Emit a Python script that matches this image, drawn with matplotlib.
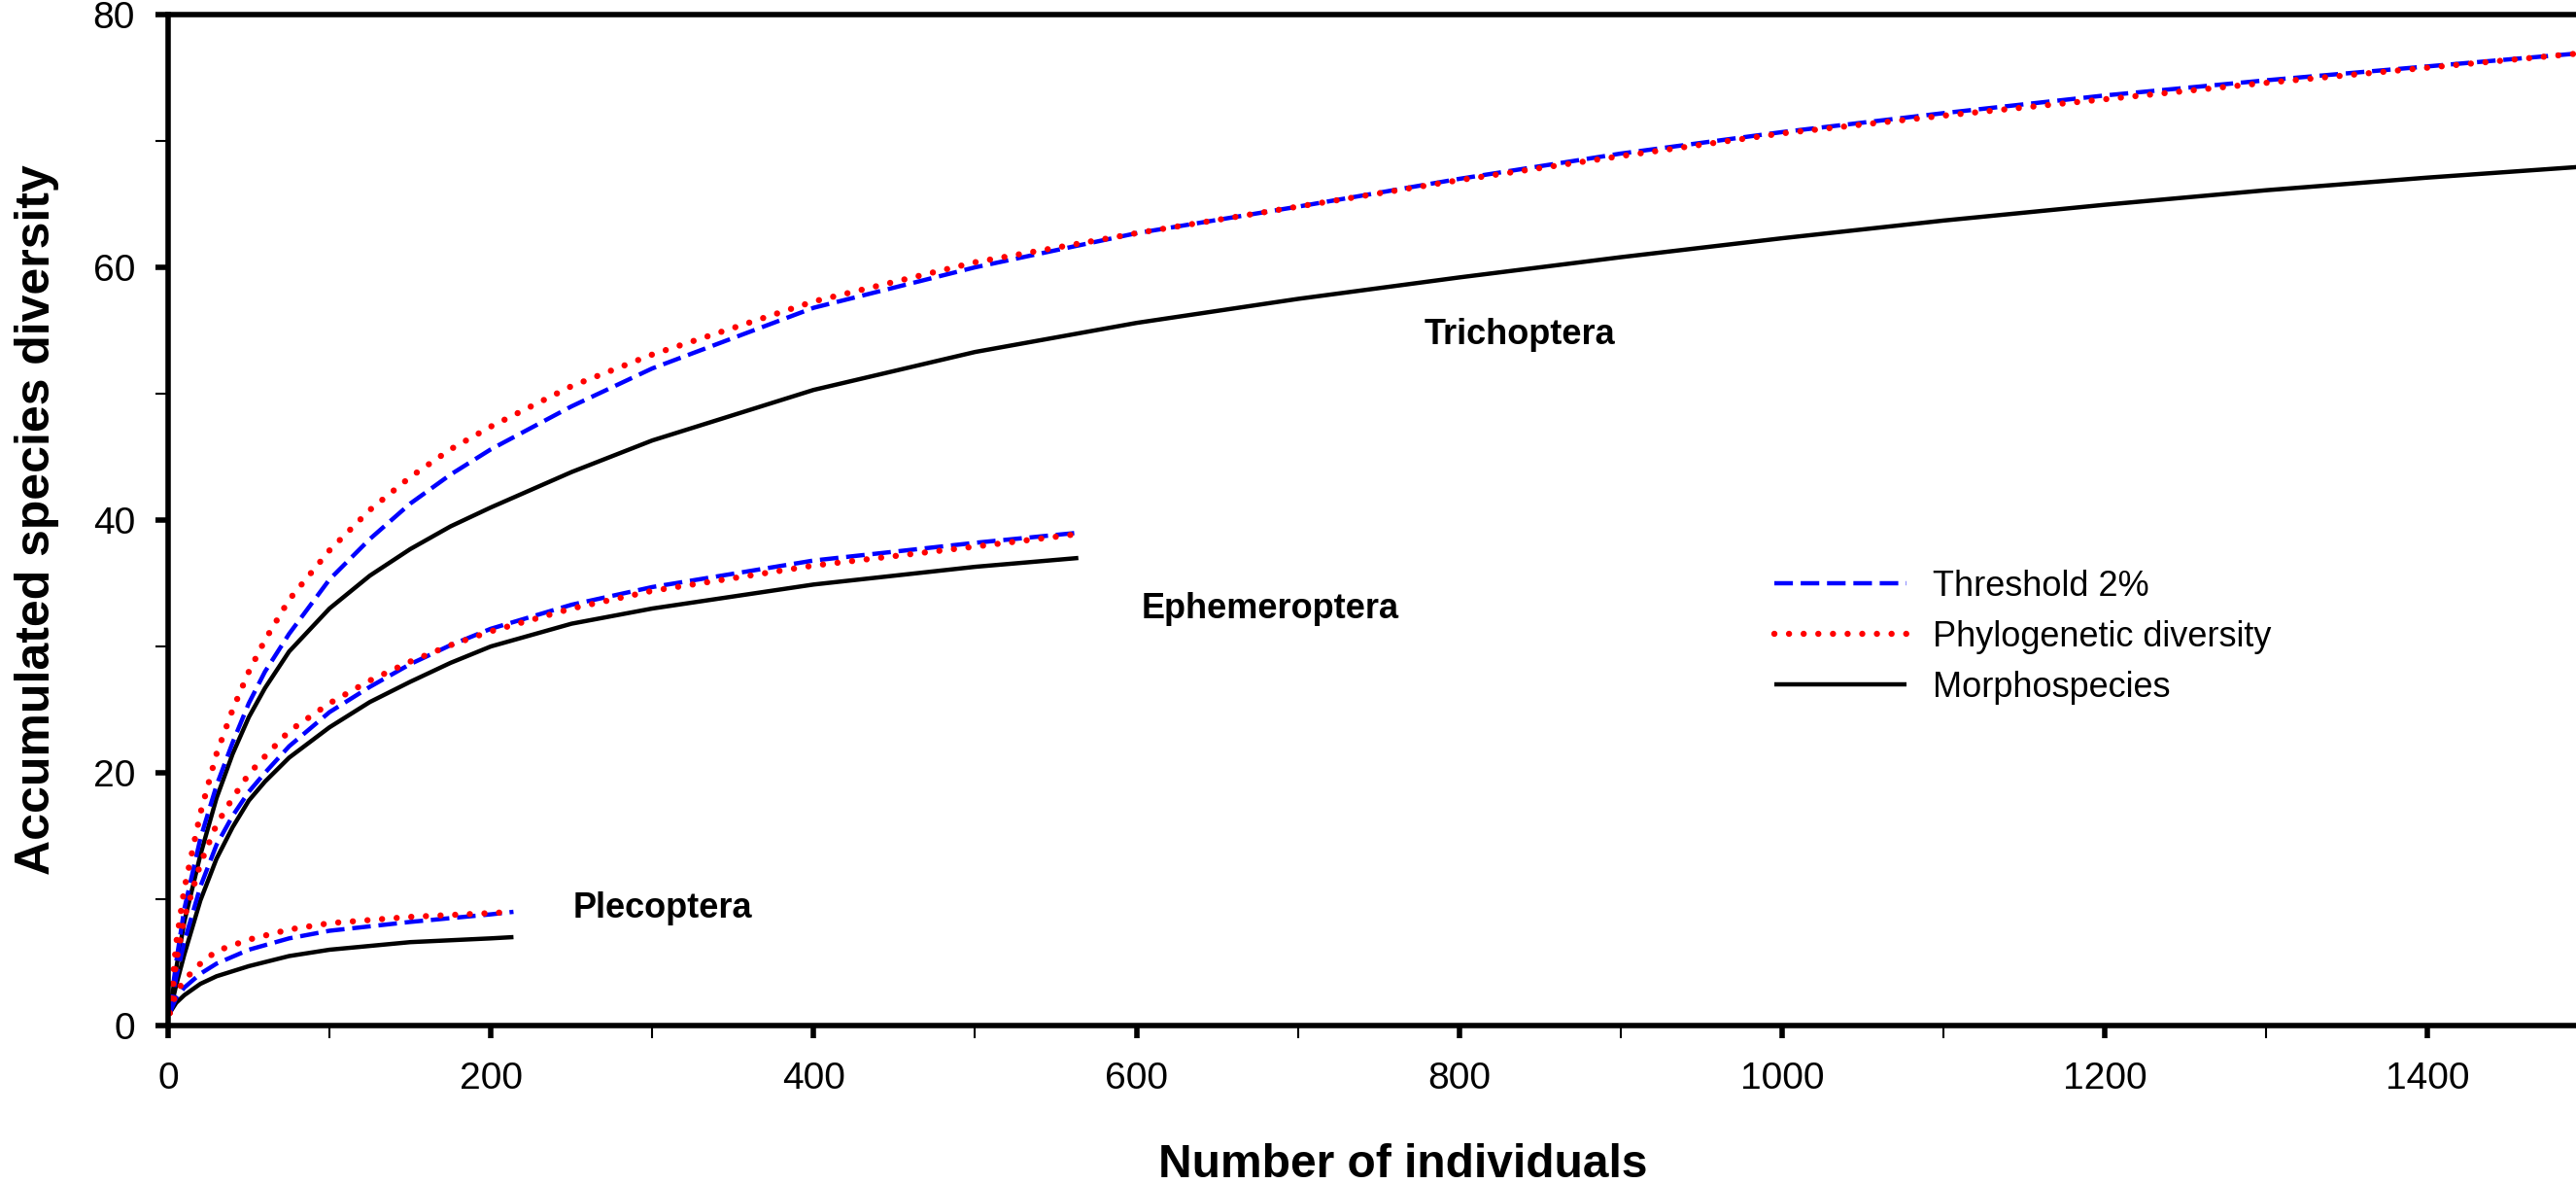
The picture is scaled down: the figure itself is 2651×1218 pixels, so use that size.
# **********************************************************************************************************************
# Imports
# **********************************************************************************************************************

import matplotlib
matplotlib.use("Agg")
import matplotlib.pyplot as plt
from matplotlib.ticker import MultipleLocator

plt.rcParams['font.family'] = ['Liberation Sans', 'DejaVu Sans']

# **********************************************************************************************************************
# Data
# **********************************************************************************************************************

tri_x = [1, 5, 10, 20, 30, 40, 50, 60, 75, 100, 125, 150, 175, 200, 250, 300, 400, 500, 600, 700, 800, 900, 1000,
         1100, 1200, 1300, 1400, 1500]
tri_morpho = [1, 4.5, 8.2, 13.5, 18.0, 21.5, 24.4, 26.7, 29.6, 33.0, 35.6, 37.7, 39.5, 41.0, 43.8, 46.3, 50.3, 53.3,
              55.6, 57.5, 59.2, 60.8, 62.3, 63.7, 64.95, 66.1, 67.1, 68.0]
tri_threshold = [1, 5.0, 9.2, 14.8, 19.0, 22.4, 25.5, 28.0, 31.0, 35.3, 38.5, 41.3, 43.6, 45.6, 49.0, 52.0, 56.8, 60.0,
                 62.7, 64.8, 67.0, 69.0, 70.7, 72.2, 73.6, 74.8, 75.9, 77.0]
tri_phylo = [1, 6.5, 10.8, 16.8, 21.5, 25.0, 28.0, 30.5, 33.7, 37.6, 40.8, 43.4, 45.6, 47.4, 50.6, 53.1, 57.3, 60.4,
             62.7, 64.8, 66.9, 68.8, 70.6, 72.0, 73.3, 74.6, 75.8, 77.0]

eph_x = [1, 5, 10, 20, 30, 40, 50, 60, 75, 100, 125, 150, 175, 200, 250, 300, 400, 500, 564]
eph_morpho = [1, 3.2, 5.6, 9.9, 13.2, 15.7, 17.8, 19.3, 21.2, 23.6, 25.6, 27.2, 28.7, 30.0, 31.8, 33.0, 34.9, 36.3,
              37.0]
eph_threshold = [1, 3.8, 6.6, 11.0, 14.3, 16.6, 18.5, 20.0, 22.1, 24.8, 26.8, 28.6, 30.1, 31.4, 33.3, 34.7, 36.8,
                 38.2, 39.0]
eph_phylo = [1, 5.0, 8.5, 12.8, 15.9, 18.0, 19.9, 21.3, 23.3, 25.5, 27.3, 28.8, 30.1, 31.2, 33.0, 34.4, 36.4, 37.9,
             38.9]

ple_x = [1, 5, 10, 20, 30, 50, 75, 100, 150, 200, 214]
ple_morpho = [1, 1.8, 2.4, 3.3, 3.9, 4.7, 5.5, 6.0, 6.6, 6.9, 7.0]
ple_threshold = [1, 2.2, 3.0, 4.1, 4.9, 6.0, 6.9, 7.5, 8.2, 8.8, 9.0]
ple_phylo = [1, 2.6, 3.6, 4.9, 5.9, 6.8, 7.6, 8.1, 8.6, 8.9, 9.0]

groups = [
    ("Trichoptera", tri_x, tri_morpho, tri_threshold, tri_phylo, (778, 53.9)),
    ("Ephemeroptera", eph_x, eph_morpho, eph_threshold, eph_phylo, (603, 32.2)),
    ("Plecoptera", ple_x, ple_morpho, ple_threshold, ple_phylo, (251, 8.55)),
]

# **********************************************************************************************************************
# Plot
# **********************************************************************************************************************

fig = plt.figure(figsize=(26.51, 12.18), dpi=100)
ax = fig.add_axes([173 / 2651, 1 - 1055 / 1218, 2478 / 2651, 1040 / 1218])

for i, (name, x, morpho, thresh, phylo, label_pos) in enumerate(groups):
    ax.plot(x, morpho, color='black', linewidth=3.2, solid_capstyle='butt',
            label='Morphospecies' if i == 0 else None)
    ax.plot(x, thresh, color='#0000ff', linewidth=3.2, linestyle=(0, (4.3, 1.8)),
            label='Threshold 2%' if i == 0 else None)
    ax.plot(x, phylo, color='#ff0000', linewidth=4.6, linestyle=(0, (0.01, 2.35)), dash_capstyle='round',
            label='Phylogenetic diversity' if i == 0 else None)
    ax.text(label_pos[0], label_pos[1], name, fontsize=26, fontweight='bold', va='baseline', ha='left')

ax.set_xlim(0, 1492)
ax.set_ylim(0, 80)

ax.xaxis.set_major_locator(MultipleLocator(200))
ax.xaxis.set_minor_locator(MultipleLocator(100))
ax.yaxis.set_major_locator(MultipleLocator(20))
ax.yaxis.set_minor_locator(MultipleLocator(10))

for side in ['left', 'bottom', 'top']:
    ax.spines[side].set_linewidth(4.0)
ax.spines['right'].set_visible(False)

ax.tick_params(which='major', direction='out', length=9.4, width=4.0, labelsize=28)
ax.tick_params(which='minor', direction='out', length=9.4, width=1.5)
ax.tick_params(axis='x', which='major', pad=17)
ax.tick_params(axis='y', which='major', pad=15)

ax.set_xlabel('Number of individuals', fontsize=34.5, fontweight='bold')
ax.set_ylabel('Accumulated species diversity', fontsize=36, fontweight='bold')
ax.xaxis.set_label_coords(0.513, -0.116)
ax.yaxis.set_label_coords(-0.045, 0.5)

handles, labels = ax.get_legend_handles_labels()
order = [labels.index('Threshold 2%'), labels.index('Phylogenetic diversity'), labels.index('Morphospecies')]
ax.legend([handles[k] for k in order], [labels[k] for k in order], loc='upper left',
          bbox_to_anchor=((1826 - 173) / 2478, (1055 - 586) / 1040), frameon=False, fontsize=26,
          handlelength=3.77, handletextpad=0.74, labelspacing=0.47, borderpad=0, borderaxespad=0)

fig.savefig('out.png', dpi=100)
